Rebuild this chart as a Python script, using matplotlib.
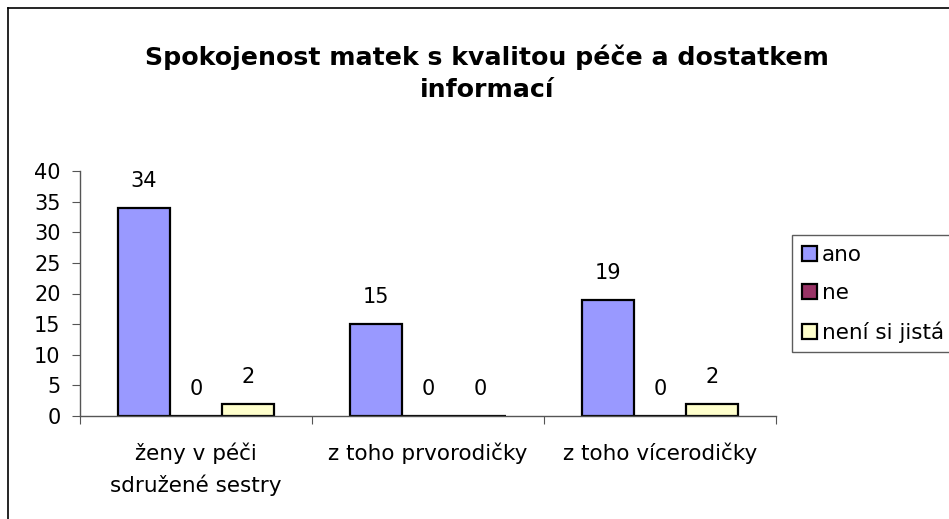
import numpy as np
import matplotlib.pyplot as plt
from matplotlib.lines import Line2D

plt.rcParams['font.family'] = ['DejaVu Sans']

categories = ['ženy v péči\nsdružené sestry', 'z toho prvorodičky', 'z toho vícerodičky']
series = ['ano', 'ne', 'není si jistá']
ano = [34, 15, 19]
ne = [0, 0, 0]
neni = [2, 0, 2]
colors = ['#9999FF', '#993366', '#FFFFCC']

W, H = 949, 519
fig = plt.figure(figsize=(W / 100, H / 100), dpi=100)
ax = fig.add_axes([80 / W, 1 - 416 / H, (776 - 80) / W, (416 - 171) / H])

x = np.arange(len(categories))
bw = 0.224
for i, (vals, name, c) in enumerate(zip([ano, ne, neni], series, colors)):
    pos = x + (i - 1) * bw
    ax.bar(pos, vals, bw, color=c, edgecolor='black', linewidth=1.6, label=name)
    for p, v in zip(pos, vals):
        ax.annotate(str(v), (p, v), xytext=(0, 12), textcoords='offset points',
                    ha='center', va='bottom', fontsize=15)

ax.set_xlim(-0.5, 2.5)
ax.set_ylim(0, 40)
ax.set_yticks(range(0, 41, 5))
ax.tick_params(axis='y', labelsize=15, direction='out', length=6, color='#555555', pad=8)
ax.set_xticks([-0.5, 0.5, 1.5, 2.5])
ax.set_xticklabels([])
ax.set_xticks(x, minor=True)
ax.set_xticklabels(categories, minor=True, fontsize=15.5, linespacing=1.6)
ax.tick_params(axis='x', which='major', direction='out', length=6, color='#555555')
ax.tick_params(axis='x', which='minor', length=0, pad=19)
for s in ['top', 'right']:
    ax.spines[s].set_visible(False)
for s in ['left', 'bottom']:
    ax.spines[s].set_color('#555555')
    ax.spines[s].set_linewidth(1.0)

fig.text(487 / W, 1 - 73 / H, 'Spokojenost matek s kvalitou péče a dostatkem\ninformací',
         ha='center', va='center', fontsize=18.2, fontweight='bold', linespacing=1.4)

leg = fig.legend(loc='upper left', bbox_to_anchor=(792 / W, 1 - 235 / H), fontsize=15.5,
                 frameon=True, fancybox=False, edgecolor='#333333', handlelength=0.7,
                 handleheight=0.7, handletextpad=0.25, labelspacing=0.85, borderpad=0.45,
                 borderaxespad=0)
leg.get_frame().set_linewidth(1.0)
for h in leg.legend_handles:
    h.set_linewidth(1.6)

# outer chart border
fig.add_artist(Line2D([7.5 / W, 7.5 / W], [0, 1 - 8 / H], color='black', lw=1.2))
fig.add_artist(Line2D([7.5 / W, 1], [1 - 8 / H, 1 - 8 / H], color='black', lw=1.2))

fig.savefig('out.png', dpi=100)
